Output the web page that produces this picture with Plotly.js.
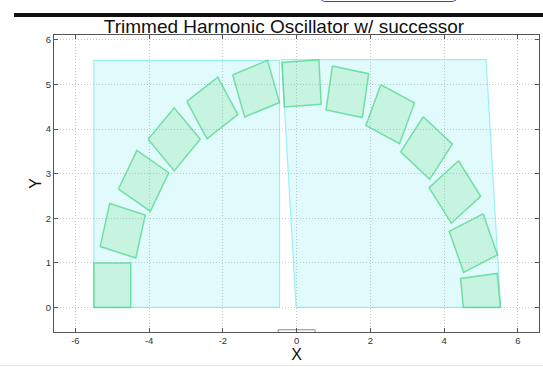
<!DOCTYPE html>
<html>
<head>
<meta charset="utf-8">
<script src="https://cdn.plot.ly/plotly-3.0.1.min.js"></script>
<style>
  html, body { margin: 0; padding: 0; background: #fff; overflow: hidden; }
  #page { position: relative; width: 543px; height: 367px; }
  #chart { position: absolute; left: 0; top: 0; width: 543px; height: 367px; }
  .rule { position: absolute; left: 14px; top: 13px; width: 529px; height: 4px; background: #111; }
  .link { position: absolute; left: 320px; top: -12px; width: 135px; height: 13px;
          border: 1.5px solid #3344cc; border-top: none; border-radius: 0 0 5px 5px; }
  .foot { position: absolute; left: 0; top: 365px; width: 543px; height: 1px; background: #e8e8e8; }
</style>
</head>
<body>
<div id="page">
  <div id="chart"></div>
  <div class="rule"></div>
  <div class="link"></div>
  <div class="foot"></div>
</div>
<script>
// Block centres, rotations (degrees) and the group each block belongs to
const blockX = [-5.0, -4.716, -4.15, -3.321, -2.286, -1.101, 0.134, 1.374, 2.535, 3.52, 4.29, 4.79, 4.997];
const blockY = [0.5, 1.72, 2.839, 3.77, 4.473, 4.906, 5.027, 4.837, 4.334, 3.576, 2.59, 1.444, 0.21];
const blockAngle = [0, -15, -30, -45, -57, -71, -86.5, -100, -114, -128, -143, -157, -173.6];
const blockGroup = ['left', 'left', 'left', 'left', 'left', 'left',
                    'right', 'right', 'right', 'right', 'right', 'right', 'right'];
const blockSide = 1;

// Each group is enclosed by a region leaning by this much (x shift per unit of y)
const groupNames = ['left', 'right'];
const groupLean = [0, 0.071];

// Floor that trims the blocks, and the base block under the origin
const floorY = 0;
const baseX = [-0.5, 0.5];
const baseY = [-1.5, -0.5];

const xTickVals = [-6, -4, -2, 0, 2, 4, 6];
const xTickText = ['-6', '-4', '-2', '0', '2', '4', '6'];
const yTickVals = [0, 1, 2, 3, 4, 5, 6];
const yTickText = ['0', '1', '2', '3', '4', '5', '6'];

// Corners of a rotated square
function squareCorners(cx, cy, deg, side) {
  const a = deg * Math.PI / 180, c = Math.cos(a), s = Math.sin(a), h = side / 2;
  return [[-h, -h], [h, -h], [h, h], [-h, h]].map(([dx, dy]) =>
    [cx + dx * c - dy * s, cy + dx * s + dy * c]);
}

// Keep the part of a polygon that lies on or above y = y0
function trimBelow(pts, y0) {
  const out = [];
  const n = pts.length;
  for (let i = 0; i < n; i++) {
    const cur = pts[i], prev = pts[(i + n - 1) % n];
    const curIn = cur[1] >= y0 - 1e-9, prevIn = prev[1] >= y0 - 1e-9;
    const cross = () => {
      const t = (y0 - prev[1]) / (cur[1] - prev[1]);
      return [prev[0] + t * (cur[0] - prev[0]), y0];
    };
    if (curIn) {
      if (!prevIn) out.push(cross());
      out.push(cur);
    } else if (prevIn) {
      out.push(cross());
    }
  }
  return out;
}

function closed(pts) {
  return { x: pts.map(p => p[0]).concat([pts[0][0]]), y: pts.map(p => p[1]).concat([pts[0][1]]) };
}

const blocks = blockX.map((x, i) =>
  trimBelow(squareCorners(x, blockY[i], blockAngle[i], blockSide), floorY));

const traces = [];

// Enclosing region of each group, bounded in its leaned frame
groupNames.forEach((g, gi) => {
  const k = groupLean[gi];
  const pts = [].concat(...blocks.filter((b, i) => blockGroup[i] === g));
  const us = pts.map(p => p[0] + k * p[1]);
  const ys = pts.map(p => p[1]);
  const u0 = Math.min(...us), u1 = Math.max(...us);
  const y0 = Math.min(...ys), y1 = Math.max(...ys);
  const poly = closed([[u0 - k * y0, y0], [u1 - k * y0, y0], [u1 - k * y1, y1], [u0 - k * y1, y1]]);
  traces.push({
    type: 'scatter', mode: 'lines', x: poly.x, y: poly.y, fill: 'toself',
    fillcolor: 'rgba(40,228,240,0.14)',
    line: { color: 'rgba(100,230,234,0.6)', width: 1.2 },
    hoverinfo: 'skip'
  });
});

// The blocks themselves
blocks.forEach(b => {
  const poly = closed(b);
  traces.push({
    type: 'scatter', mode: 'lines', x: poly.x, y: poly.y, fill: 'toself',
    fillcolor: 'rgba(90,222,110,0.2)',
    line: { color: 'rgba(60,210,125,0.65)', width: 1.5 },
    hoverinfo: 'skip'
  });
});

// Base block below the floor
const base = closed([[baseX[0], baseY[0]], [baseX[1], baseY[0]], [baseX[1], baseY[1]], [baseX[0], baseY[1]]]);
traces.push({
  type: 'scatter', mode: 'lines', x: base.x, y: base.y, fill: 'toself',
  fillcolor: 'rgba(255,255,255,0.9)',
  line: { color: '#8a8a8a', width: 1 },
  hoverinfo: 'skip'
});

const fontFamily = '"Liberation Sans", Arial, sans-serif';
const axisCommon = {
  ticks: 'inside', ticklen: 4, tickwidth: 1, tickcolor: '#555',
  showline: true, linecolor: '#555', linewidth: 1, mirror: 'ticks',
  showgrid: true, gridcolor: '#c8c8c8', griddash: '1px,2px', gridwidth: 1,
  zeroline: false, automargin: false,
  tickfont: { family: fontFamily, size: 9.5, color: '#333' }
};

const layout = {
  width: 543, height: 367,
  margin: { l: 54, r: 4, t: 35, b: 35 },
  paper_bgcolor: '#fff', plot_bgcolor: '#fff',
  showlegend: false, hovermode: false,
  font: { family: fontFamily },
  title: {
    text: 'Trimmed Harmonic Oscillator w/ successor',
    font: { family: fontFamily, size: 19, color: '#111' },
    x: 284 / 543, xref: 'container', xanchor: 'center',
    y: 1 - 26.5 / 367, yref: 'container', yanchor: 'middle'
  },
  xaxis: Object.assign({}, axisCommon, {
    range: [-6.58, 6.57], tickmode: 'array', tickvals: xTickVals, ticktext: xTickText,
    title: { text: 'X', font: { family: fontFamily, size: 16, color: '#111' }, standoff: 0 }
  }),
  yaxis: Object.assign({}, axisCommon, {
    range: [-0.55, 6.11], tickmode: 'array', tickvals: yTickVals, ticktext: yTickText,
    title: { text: 'Y', font: { family: fontFamily, size: 16, color: '#111' }, standoff: 0 }
  })
};

Plotly.newPlot('chart', traces, layout, { staticPlot: true, displayModeBar: false });
</script>
</body>
</html>
